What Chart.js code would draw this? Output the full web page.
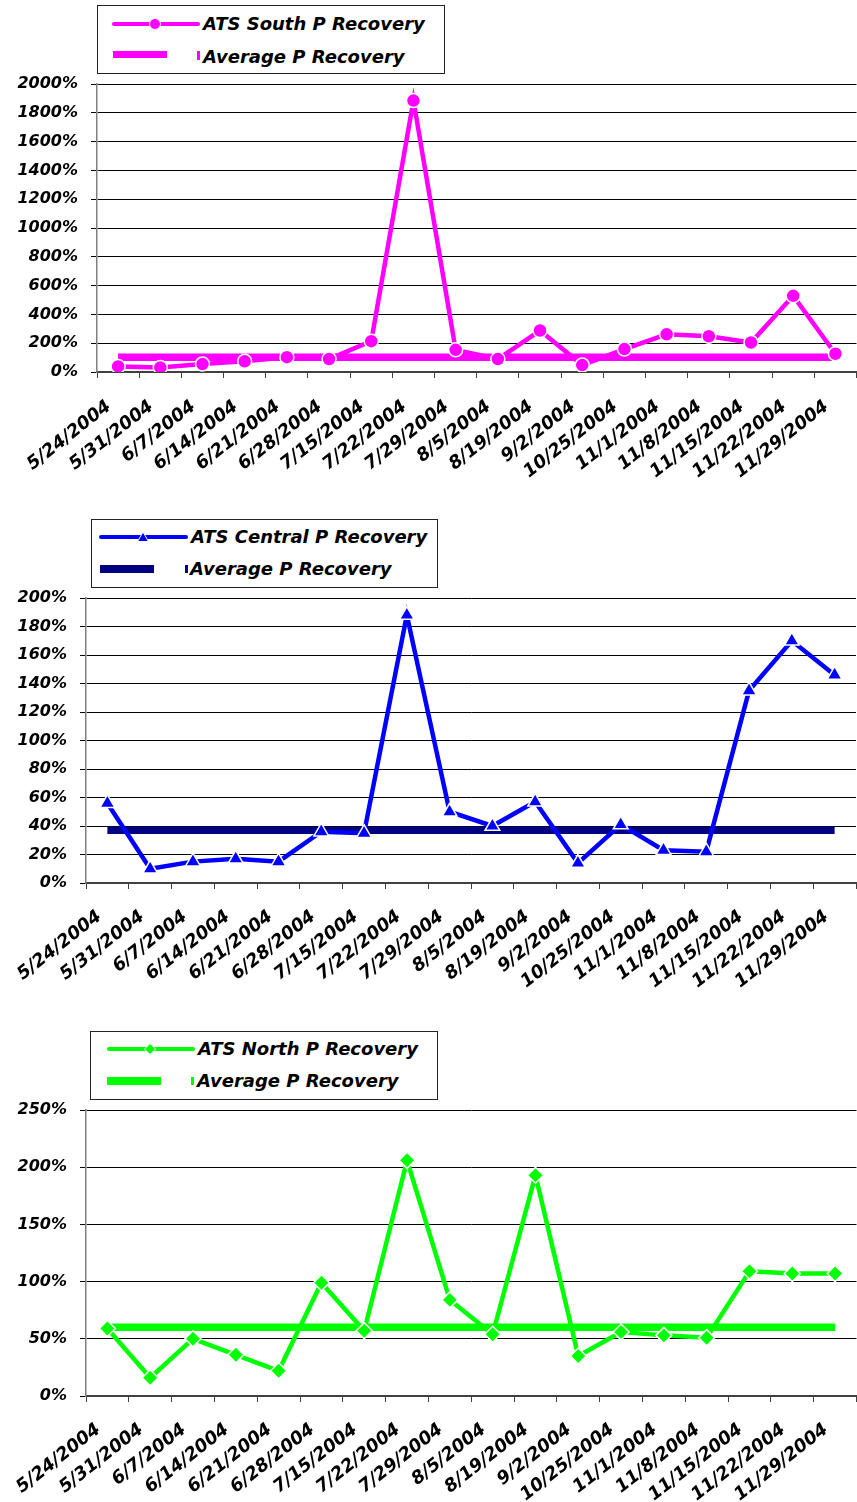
<!DOCTYPE html>
<html>
<head>
<meta charset="utf-8">
<script src="https://cdn.jsdelivr.net/npm/chart.js@4.4.1/dist/chart.umd.min.js"></script>
<style>
  body { margin: 0; width: 857px; height: 1502px; overflow: hidden; position: relative; background: #fff; }
  canvas { position: absolute; left: 0; }
  .legend { position: absolute; border: 1px solid #222; background: #fff; box-sizing: border-box; z-index: 2; }
  .legend svg { position: absolute; left: 0; top: 0; }
  .legend span {
    position: absolute; white-space: nowrap; line-height: 24px; height: 24px;
    font-family: 'DejaVu Sans', sans-serif; font-size: 18px; font-weight: bold; font-style: italic; color: #000;
  }
</style>
</head>
<body>

<!-- Legenda 1: ATS South -->
<div class="legend" style="left:97px;top:5px;width:348px;height:69px">
  <svg width="348" height="69">
    <line x1="16" y1="18" x2="100" y2="18" stroke="#ff00ff" stroke-width="4" stroke-linecap="round"/>
    <circle cx="57" cy="18" r="5.5" fill="#ff00ff" stroke="#fff" stroke-width="1"/>
    <rect x="15" y="45" width="54" height="7" fill="#ff00ff"/>
    <rect x="99" y="45" width="3" height="9" fill="#ff00ff"/>
  </svg>
  <span style="left:105px;top:6px">ATS South P Recovery</span>
  <span style="left:105px;top:39px">Average P Recovery</span>
</div>

<!-- Legenda 2: ATS Central -->
<div class="legend" style="left:91px;top:519px;width:347px;height:69px">
  <svg width="347" height="69">
    <line x1="9" y1="17" x2="94" y2="17" stroke="#0000ff" stroke-width="4" stroke-linecap="round"/>
    <polygon points="51,12 45.5,21.5 56.5,21.5" fill="#0000ff" stroke="#fff" stroke-width="1"/>
    <rect x="8" y="45" width="54" height="8" fill="#000080"/>
    <rect x="93" y="45" width="3" height="8" fill="#000080"/>
  </svg>
  <span style="left:99px;top:5px">ATS Central P Recovery</span>
  <span style="left:98px;top:37px">Average P Recovery</span>
</div>

<!-- Legenda 3: ATS North -->
<div class="legend" style="left:90px;top:1031px;width:348px;height:69px">
  <svg width="348" height="69">
    <line x1="18" y1="17" x2="102" y2="17" stroke="#00ff00" stroke-width="4" stroke-linecap="round"/>
    <polygon points="59,11.5 64.5,17 59,22.5 53.5,17" fill="#00ff00" stroke="#fff" stroke-width="1"/>
    <rect x="16" y="45" width="54" height="8" fill="#00ff00"/>
    <rect x="100" y="45" width="3" height="8" fill="#00ff00"/>
  </svg>
  <span style="left:107px;top:5px">ATS North P Recovery</span>
  <span style="left:106px;top:37px">Average P Recovery</span>
</div>

<canvas id="chartSouth" width="865" height="500" style="top:0px"></canvas>
<canvas id="chartCentral" width="866" height="500" style="top:500px"></canvas>
<canvas id="chartNorth" width="866" height="502" style="top:1000px"></canvas>

<script>
// Datas das coletas (eixo X, igual nos 3 graficos)
const dates = ['5/24/2004', '5/31/2004', '6/7/2004', '6/14/2004', '6/21/2004', '6/28/2004',
    '7/15/2004', '7/22/2004', '7/29/2004', '8/5/2004', '8/19/2004', '9/2/2004',
    '10/25/2004', '11/1/2004', '11/8/2004', '11/15/2004', '11/22/2004', '11/29/2004'];

// Recuperacao de P em %
const southRecovery = [39, 32, 55, 74, 103, 90, 214, 1885, 154, 90, 288, 48, 159, 262, 248, 205, 529, 127];
const southAverage = 103;

const centralRecovery = [56, 10, 15, 17, 15, 36, 35, 188, 50, 40, 57, 14, 41, 23, 22, 135, 170, 146];
const centralAverage = 37;

const northRecovery = [59, 16, 50, 36, 22, 99, 57, 206, 84, 54, 193, 35, 56, 53, 51, 109, 107, 107];
const northAverage = 60;

Chart.defaults.font.family = "'DejaVu Sans', sans-serif";
Chart.defaults.color = '#000';

const tickFont = { size: 16, style: 'italic', weight: 'bold' };
const dateFont = { size: 18, style: 'italic', weight: 'bold' };

function buildChart(canvasId, cfg) {
    const ctx = document.getElementById(canvasId).getContext('2d');

    return new Chart(ctx, {
        type: 'line',
        data: {
            labels: dates,
            datasets: [{
                label: cfg.label,
                data: cfg.values,
                borderColor: cfg.color,
                backgroundColor: cfg.color,
                borderWidth: 4.5,
                pointStyle: cfg.pointStyle,
                pointRadius: cfg.pointRadius,
                pointBackgroundColor: cfg.color,
                pointBorderColor: '#ffffff',
                pointBorderWidth: 1.5,
                tension: 0,
                order: 1
            }, {
                label: 'Average P Recovery',
                data: dates.map(() => cfg.average), // linha da media
                borderColor: cfg.avgColor,
                borderWidth: 7.5,
                borderCapStyle: 'butt',
                pointRadius: 0,
                tension: 0,
                order: 2
            }]
        },
        options: {
            responsive: false,
            animation: false,
            layout: { padding: { top: cfg.padTop, left: 0, right: 0, bottom: 0 } },
            plugins: {
                legend: { display: false },
                tooltip: { enabled: false }
            },
            scales: {
                x: {
                    offset: true,
                    grid: { offset: true, drawOnChartArea: false, drawTicks: true, tickLength: 6, tickColor: '#404040' },
                    border: { color: '#404040', width: 2 },
                    ticks: {
                        autoSkip: false,
                        minRotation: 38,
                        maxRotation: 38,
                        labelOffset: cfg.labelOffset,
                        padding: cfg.labelPad,
                        font: dateFont
                    },
                    afterFit: (s) => { s.height = cfg.xHeight; s.paddingLeft = 0; s.paddingRight = 0; }
                },
                y: {
                    min: 0,
                    max: cfg.max,
                    ticks: {
                        stepSize: cfg.step,
                        padding: 13,
                        font: tickFont,
                        callback: (v) => v + '%'
                    },
                    grid: { color: '#000', lineWidth: 1, tickLength: 6, tickColor: '#000' },
                    border: { color: '#808080', width: 1.5 },
                    afterFit: (s) => { s.width = cfg.yWidth; }
                }
            }
        }
    });
}

buildChart('chartSouth', {
    label: 'ATS South P Recovery', values: southRecovery, average: southAverage,
    color: '#ff00ff', avgColor: '#ff00ff', pointStyle: 'circle', pointRadius: 7,
    max: 2000, step: 200, padTop: 84, xHeight: 128, yWidth: 97, labelPad: 18, labelOffset: -9
});

buildChart('chartCentral', {
    label: 'ATS Central P Recovery', values: centralRecovery, average: centralAverage,
    color: '#0000ff', avgColor: '#000080', pointStyle: 'triangle', pointRadius: 8.5,
    max: 200, step: 20, padTop: 98, xHeight: 117, yWidth: 86, labelPad: 17, labelOffset: -8
});

buildChart('chartNorth', {
    label: 'ATS North P Recovery', values: northRecovery, average: northAverage,
    color: '#00ff00', avgColor: '#00ff00', pointStyle: 'rectRot', pointRadius: 8,
    max: 250, step: 50, padTop: 110, xHeight: 106, yWidth: 86, labelPad: 17, labelOffset: -9
});
</script>
</body>
</html>
